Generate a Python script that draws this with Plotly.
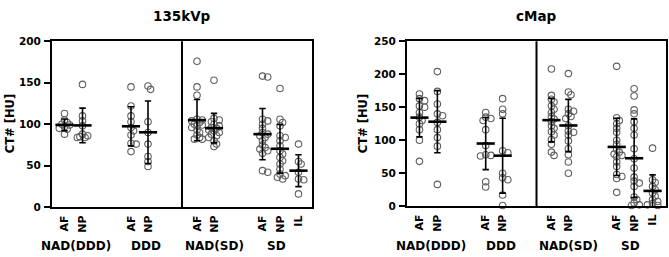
import numpy as np
import plotly.graph_objects as go

# ---------------- data ----------------
cat_labels = ["AF", "NP", "AF", "NP", "AF", "NP", "AF", "NP", "IL"]
group_labels = ["NAD(DDD)", "DDD", "NAD(SD)", "SD"]
panel_titles = ["135kVp", "cMap"]
y_title = "CT# [HU]"

# 135kVp panel
kvp_nad_ddd_af = [113, 105, 102, 100, 99, 97, 95, 94, 88]
kvp_nad_ddd_np = [148, 110, 104, 98, 88, 86, 85, 84, 84]
kvp_ddd_af = [145, 122, 110, 103, 96, 92, 87, 77, 76, 67]
kvp_ddd_np = [146, 142, 103, 90, 76, 61, 55, 49]
kvp_nad_sd_af = [176, 145, 135, 106, 105, 104, 102, 100, 99, 98, 96, 93, 90, 87, 84, 82, 82]
kvp_nad_sd_np = [153, 107, 105, 103, 100, 98, 96, 95, 93, 92, 90, 88, 86, 84, 80, 76, 73]
kvp_sd_af = [158, 157, 106, 104, 100, 95, 90, 88, 86, 84, 80, 75, 72, 70, 68, 65, 44, 42]
kvp_sd_np = [143, 106, 102, 98, 86, 84, 80, 74, 68, 64, 60, 56, 52, 46, 40, 38, 36, 34]
kvp_sd_il = [76, 55, 52, 42, 34, 33, 16]

# cMap panel
cmap_nad_ddd_af = [170, 163, 160, 152, 150, 142, 135, 130, 125, 116, 100, 68]
cmap_nad_ddd_np = [204, 174, 155, 140, 137, 127, 116, 104, 91, 33]
cmap_ddd_af = [142, 135, 133, 130, 116, 92, 78, 77, 76, 37, 29]
cmap_ddd_np = [163, 147, 140, 84, 81, 50, 43, 40, 17, 1]
cmap_nad_sd_af = [208, 168, 162, 158, 152, 147, 142, 136, 132, 128, 122, 118, 113, 108, 101, 94, 82, 77]
cmap_nad_sd_np = [201, 173, 169, 147, 144, 140, 136, 133, 122, 114, 112, 108, 99, 87, 78, 67, 50]
cmap_sd_af = [212, 134, 130, 125, 118, 112, 100, 94, 86, 82, 79, 77, 75, 67, 60, 48, 45, 42, 21]
cmap_sd_np = [178, 167, 146, 140, 128, 118, 108, 87, 72, 58, 44, 38, 35, 30, 14, 10, 5, 2, 1]
cmap_sd_il = [88, 40, 36, 30, 25, 20, 15, 10, 7, 4, 2, 1]

kvp_series = [kvp_nad_ddd_af, kvp_nad_ddd_np, kvp_ddd_af, kvp_ddd_np, kvp_nad_sd_af,
              kvp_nad_sd_np, kvp_sd_af, kvp_sd_np, kvp_sd_il]
cmap_series = [cmap_nad_ddd_af, cmap_nad_ddd_np, cmap_ddd_af, cmap_ddd_np, cmap_nad_sd_af,
               cmap_nad_sd_np, cmap_sd_af, cmap_sd_np, cmap_sd_il]

# ---------------- layout scale (category slots on a 0..260 x scale) ----------------
X_RANGE = [0, 260]
cat_pos = [12.5, 30.5, 79, 96, 145, 162, 210.5, 228, 246.5]
group_pos = [24, 94, 162, 224]
divider_pos = 130
y_maxes = [200, 250]

W, H = 669, 257
x_domains = [[52 / W, 312 / W], [407 / W, 666 / W]]
y_domains = [[46 / H, 220 / H], [47 / H, 220 / H]]

FONT = "DejaVu Sans"
MARK_COL = "#606060"


def swarm(values, px_per_unit, diam=3.6, step=2.6, kmax=2):
    """Deterministic beeswarm offsets (pixels == x units here)."""
    placed = []
    offs = []
    for v in values:
        yp = v * px_per_unit
        k_seq = [0]
        for k in range(1, kmax + 1):
            k_seq += [k, -k]
        best, best_d = 0.0, -1
        for k in k_seq:
            xo = k * step
            dmin = min([((xo - px) ** 2 + (yp - py) ** 2) for px, py in placed] or [1e9])
            if dmin >= diam ** 2:
                best = xo
                break
            if dmin > best_d:
                best, best_d = xo, dmin
        placed.append((best, yp))
        offs.append(best)
    return offs


fig = go.Figure()

panels = [kvp_series, cmap_series]
for p, series in enumerate(panels):
    xa = "x" if p == 0 else "x2"
    ya = "y" if p == 0 else "y2"
    ppu = (y_domains[p][1] - y_domains[p][0]) * H / y_maxes[p]
    for i, vals in enumerate(series):
        offs = swarm(vals, ppu)
        fig.add_trace(go.Scatter(
            x=[cat_pos[i] + o for o in offs], y=vals, xaxis=xa, yaxis=ya,
            mode="markers", cliponaxis=False, showlegend=False,
            marker=dict(symbol="circle-open", size=6.5, color=MARK_COL,
                        line=dict(width=1.1, color=MARK_COL)),
            hoverinfo="y"))
        m = float(np.mean(vals))
        s = float(np.std(vals, ddof=1))
        fig.add_trace(go.Scatter(
            x=[cat_pos[i]], y=[m], xaxis=xa, yaxis=ya, mode="markers",
            cliponaxis=False, showlegend=False,
            marker=dict(symbol="line-ew", size=13, color="black",
                        line=dict(width=2.6, color="black")),
            error_y=dict(type="data", array=[s], visible=True, color="black",
                         thickness=1.6, width=3.2)))

    # divider line
    fig.add_shape(type="line", xref=xa, yref=f"{ya} domain", x0=divider_pos, x1=divider_pos,
                  y0=0, y1=1, line=dict(color="black", width=2))

    # titles
    xc = (x_domains[p][0] + x_domains[p][1]) / 2
    fig.add_annotation(text=panel_titles[p], xref="paper", yref="paper", x=xc,
                       y=(H - 11) / H, showarrow=False, xanchor="center", yanchor="middle",
                       font=dict(family=FONT, size=13.5, color="black", weight="bold"))
    # y title
    fig.add_annotation(text=y_title, xref="paper", yref="paper",
                       x=(10 if p == 0 else 363) / W, y=(H - 124) / H, textangle=-90,
                       showarrow=False, xanchor="center", yanchor="middle",
                       font=dict(family=FONT, size=11.5, color="black", weight="bold"))
    # group labels
    for g, lab in enumerate(group_labels):
        fig.add_annotation(text=lab, xref=xa, yref="paper", x=group_pos[g],
                           y=(H - 252) / H, showarrow=False, xanchor="center",
                           yanchor="middle",
                           font=dict(family=FONT, size=12, color="black", weight="bold"))

axis_common_x = dict(range=X_RANGE, showline=True, mirror=True, linecolor="black",
                     linewidth=2, showgrid=False, zeroline=False, ticks="",
                     tickmode="array", tickvals=cat_pos, ticktext=cat_labels,
                     tickangle=-90, ticklabelstandoff=2,
                     tickfont=dict(family=FONT, size=11, color="black", weight="bold"))
axis_common_y = dict(showline=True, mirror=True, linecolor="black", linewidth=2,
                     showgrid=False, zeroline=False, ticks="outside", ticklen=6,
                     tickwidth=2, tickcolor="black", ticklabelstandoff=1,
                     tickfont=dict(family=FONT, size=10.5, color="black", weight="bold"))

fig.update_layout(
    width=W, height=H, margin=dict(l=0, r=0, t=0, b=0),
    paper_bgcolor="white", plot_bgcolor="white",
    font=dict(family=FONT, color="black"),
    xaxis=dict(domain=x_domains[0], anchor="y", **axis_common_x),
    xaxis2=dict(domain=x_domains[1], anchor="y2", **axis_common_x),
    yaxis=dict(domain=y_domains[0], anchor="x", range=[0, y_maxes[0]],
               tickvals=list(range(0, y_maxes[0] + 1, 50)), **axis_common_y),
    yaxis2=dict(domain=y_domains[1], anchor="x2", range=[0, y_maxes[1]],
                tickvals=list(range(0, y_maxes[1] + 1, 50)), **axis_common_y),
)

fig.write_html("out.html")
